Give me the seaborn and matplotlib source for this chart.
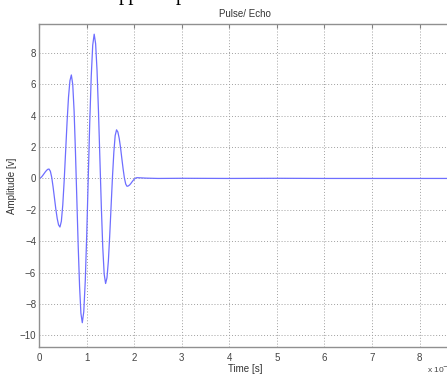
import numpy as np
import pandas as pd
import seaborn as sns
import matplotlib.pyplot as plt

# echo waveform (time in units of the axis multiplier)
time = [0.0, 0.026, 0.053, 0.079, 0.105, 0.131, 0.158, 0.184, 0.21,
        0.239, 0.268, 0.296, 0.325, 0.354, 0.383, 0.411, 0.44,
        0.47, 0.50, 0.53, 0.56, 0.59, 0.62, 0.65, 0.68,
        0.709, 0.738, 0.766, 0.795, 0.824, 0.853, 0.881, 0.91,
        0.941, 0.973, 1.004, 1.035, 1.066, 1.098, 1.129, 1.16,
        1.19, 1.22, 1.25, 1.28, 1.31, 1.34, 1.37, 1.40,
        1.429, 1.458, 1.486, 1.515, 1.544, 1.573, 1.601, 1.63,
        1.658, 1.685, 1.713, 1.74, 1.768, 1.795, 1.823, 1.85,
        1.876, 1.903, 1.929, 1.955, 1.981, 2.008, 2.034, 2.06,
        2.25, 2.5, 3.0, 4.0, 5.0, 6.0, 7.0, 8.0, 8.66]
amplitude = [0.0, 0.02, 0.09, 0.19, 0.30, 0.41, 0.51, 0.58, 0.6,
             0.46, 0.06, -0.54, -1.25, -1.96, -2.56, -2.96, -3.1,
             -2.73, -1.68, -0.1, 1.75, 3.6, 5.18, 6.23, 6.6,
             6.0, 4.29, 1.72, -1.3, -4.32, -6.89, -8.6, -9.2,
             -8.5, -6.51, -3.51, 0.0, 3.51, 6.51, 8.5, 9.2,
             8.6, 6.88, 4.29, 1.25, -1.79, -4.38, -6.1, -6.7,
             -6.33, -5.27, -3.67, -1.8, 0.07, 1.67, 2.73, 3.1,
             2.96, 2.57, 1.99, 1.3, 0.61, 0.03, -0.36, -0.5,
             -0.48, -0.42, -0.33, -0.22, -0.12, -0.03, 0.03, 0.05,
             0.02, 0.0, 0.01, 0.0, 0.01, 0.0, 0.0, 0.0, 0.0]

xticks = [0, 1, 2, 3, 4, 5, 6, 7, 8]
yticks = [-10, -8, -6, -4, -2, 0, 2, 4, 6, 8]

df = pd.DataFrame({'t': time, 'amp': amplitude})

sns.set_style('white')
plt.rcParams['font.family'] = ['Liberation Sans', 'DejaVu Sans']

fig = plt.figure(figsize=(4.47, 3.75), dpi=100)
ax = fig.add_axes([39 / 447, 1 - 347 / 375, 412 / 447, 323 / 375])

sns.lineplot(data=df, x='t', y='amp', ax=ax, color='#6e6eff', linewidth=0.9)

ax.set_xlim(0, 8.66)
ax.set_ylim(-10.75, 9.85)
ax.set_xticks(xticks)
ax.set_yticks(yticks)
ax.grid(True, color='#a0a0a0', linestyle=(0, (1, 2)), linewidth=0.7)
ax.tick_params(direction='in', length=3, width=0.8, color='#808080',
               labelsize=7, labelcolor='#444444', top=True, right=True)
ax.tick_params(axis='x', pad=4)
ax.tick_params(axis='y', pad=2)
for s in ax.spines.values():
    s.set_color('#909090')
    s.set_linewidth(1.0)

ax.set_title('Pulse/ Echo', fontsize=7, color='#333333', pad=5)
ax.set_xlabel('Time [s]', fontsize=7, color='#333333', labelpad=1)
ax.set_ylabel('Amplitude [v]', fontsize=7, color='#333333', labelpad=2)

# axis multiplier, cut off by the right edge
fig.text(427 / 447, 1 - 373 / 375, r'x 10$^{-7}$', fontsize=6, color='#444444',
         ha='left', va='baseline')
# cropped line of document text above the figure (only descenders show)
serif = ['Liberation Serif', 'DejaVu Serif']
fig.text(119 / 447, 1.0, 'pp', fontsize=15, family=serif, color='black',
         ha='left', va='baseline')
fig.text(176 / 447, 1.0, 'p', fontsize=15, family=serif, color='black',
         ha='left', va='baseline')

fig.savefig('out.png', dpi=100)
